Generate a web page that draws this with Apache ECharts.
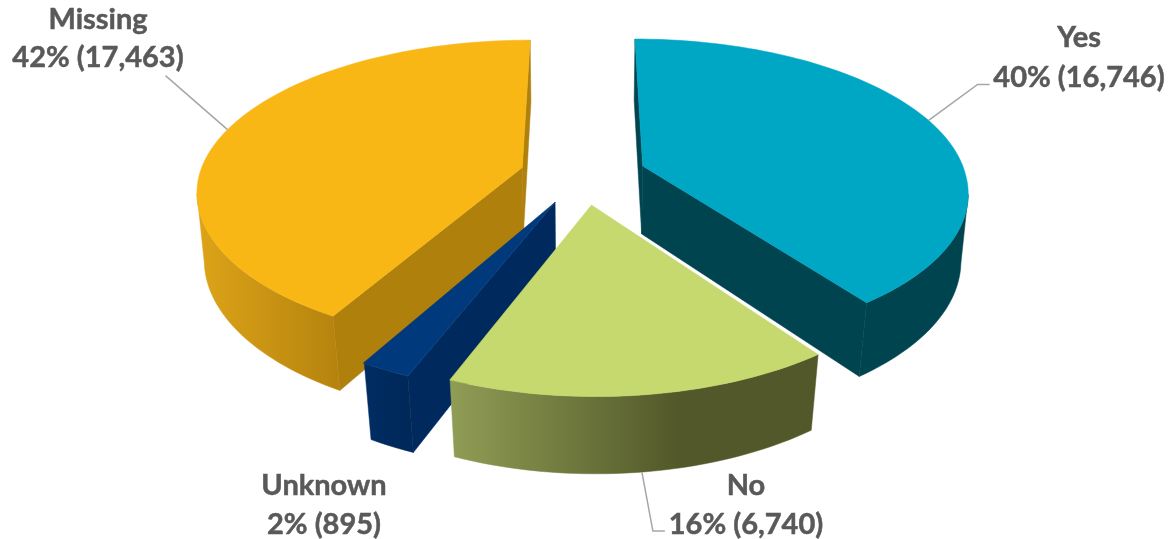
<!DOCTYPE html>
<html><head><meta charset="utf-8">
<style>html,body{margin:0;padding:0;background:#fff}#c{width:1169px;height:539px}</style>
<script src="https://cdn.jsdelivr.net/npm/echarts@6/dist/echarts.min.js"></script>
</head><body><div id="c"></div>
<script>
const categories = ['Yes', 'No', 'Unknown', 'Missing'];
const counts = [16746, 6740, 895, 17463];
const percents = [40, 16, 2, 42];

const topColors = ['#00A7C5', '#C6D96F', '#003A7D', '#F8B714'];
const cutColors = ['#00444F', '#525829', '#002A5E', '#AF800C'];
const sideStops = [
  [[0, '#00444F'], [1, '#00444F']],
  [[0, '#909D55'], [0.62, '#525829'], [1, '#525829']],
  [[0, '#002D64'], [1, '#002858']],
  [[0, '#DDA418'], [1, '#B5830E']]
];
const labelLayout = [
  {x: 1079, y1: 38, y2: 78, lead: {deg: 71, elbow: [49, -36], end: [61, -36]}},
  {x: 746, y1: 486, y2: 525, lead: {deg: 173, bottom: true, elbow: [11, 59], end: [23, 59]}},
  {x: 324, y1: 486, y2: 525},
  {x: 98, y1: 20, y2: 58, lead: {deg: 285.5, elbow: [-62, -54], end: [-62, -54]}}
];
const view = {cx: 583, cy: 175, A: 323, B: 150, D: 70, p: 0.16, px: 0.15, q: 0.025, qx: 0.018, qxNear: 0.008, shear: 3, explode: 0.196};

const total = counts.reduce((a, b) => a + b, 0);
const rad = d => d * Math.PI / 180;
const spans = [];
let acc = 0;
counts.forEach(c => { const s = acc / total * 360; acc += c; spans.push([s, acc / total * 360]); });

function project(i, deg, r, z) {
  const mid = rad((spans[i][0] + spans[i][1]) / 2), t = rad(deg);
  const u = view.explode * Math.sin(mid) + r * Math.sin(t);
  const v = view.explode * Math.cos(mid) + r * Math.cos(t);
  const near = Math.max(0, -v);
  const w = 1 + view.p * v + view.q * z;
  const wx = 1 + view.px * v + (view.qx + view.qxNear * near) * z;
  return [view.cx + view.A * u / wx + view.shear * near, view.cy - (view.B * v - view.D * z) / w];
}
function arc(i, a, b, z) {
  const n = Math.max(4, Math.ceil(Math.abs(b - a) / 1.5)), pts = [];
  for (let k = 0; k <= n; k++) pts.push(project(i, a + (b - a) * k / n, 1, z));
  return pts;
}
function area(p) {
  let s = 0;
  for (let k = 0; k < p.length; k++) { const a = p[k], b = p[(k + 1) % p.length]; s += a[0] * b[1] - b[0] * a[1]; }
  return s;
}
function poly(points, fill, z2) {
  return {type: 'polygon', shape: {points}, style: {fill, stroke: fill, lineWidth: 0.5}, z2};
}
// angle of the rim's right-most / left-most point: where the wall's silhouette runs
function extremeDeg(i, from, to, sign) {
  let best = from, bestX = -Infinity;
  for (let d = from; d <= to; d += 0.25) {
    const x = sign * project(i, d, 1, 0)[0];
    if (x > bestX) { bestX = x; best = d; }
  }
  return best;
}
function renderSlice(params) {
  const i = params.dataIndex, [a, b] = spans[i];
  const base = Math.round(-100 * Math.cos(rad((a + b) / 2))) * 10;
  const kids = [];
  const ap0 = project(i, a, 0, 0), ap1 = project(i, a, 0, 1);
  // cut faces
  const f1 = [ap0, project(i, a, 1, 0), project(i, a, 1, 1), ap1];
  const f2 = [ap0, ap1, project(i, b, 1, 1), project(i, b, 1, 0)];
  if (area(f1) < 0) kids.push(poly(f1, cutColors[i], base + 1));
  if (area(f2) < 0) kids.push(poly(f2, cutColors[i], base + 1));
  // outer wall, between the silhouette angles
  const wa = a < 180 ? extremeDeg(i, a, Math.min(b, 180), 1) : a;
  const wb = b > 180 ? extremeDeg(i, Math.max(a, 180), b, -1) : b;
  if (wb > wa) {
    const wall = arc(i, wa, wb, 0).concat(arc(i, wb, wa, 1));
    kids.push(poly(wall, new echarts.graphic.LinearGradient(0, 0, 1, 0,
      sideStops[i].map(s => ({offset: s[0], color: s[1]}))), base + 2));
  }
  // top
  kids.push(poly([ap0].concat(arc(i, a, b, 0)), topColors[i], base + 3));
  // leader + label
  const L = labelLayout[i];
  if (L.lead) {
    const s = project(i, L.lead.deg, 1, L.lead.bottom ? 1 : 0);
    kids.push({type: 'polyline', shape: {points: [s,
      [s[0] + L.lead.elbow[0], s[1] + L.lead.elbow[1]],
      [s[0] + L.lead.end[0], s[1] + L.lead.end[1]]]},
      style: {stroke: '#A6A6A6', lineWidth: 1.5, fill: null}, z2: 2000});
  }
  const font = 'bold 29px Lato, sans-serif';
  const txt = (text, y) => ({type: 'text', style: {text, x: L.x, y, textAlign: 'center', textVerticalAlign: 'middle', font, fill: '#595959', stroke: '#595959', lineWidth: 0.5}, z2: 2001});
  kids.push(txt(categories[i], L.y1));
  kids.push(txt(percents[i] + '% (' + counts[i].toLocaleString('en-US') + ')', L.y2));
  return {type: 'group', children: kids};
}
const chart = echarts.init(document.getElementById('c'), null, {width: 1169, height: 539});
chart.setOption({
  animation: false,
  backgroundColor: '#fff',
  series: [{type: 'custom', coordinateSystem: 'none', renderItem: renderSlice,
    data: categories.map((n, i) => ({name: n, value: counts[i]}))}]
});
</script></body></html>
